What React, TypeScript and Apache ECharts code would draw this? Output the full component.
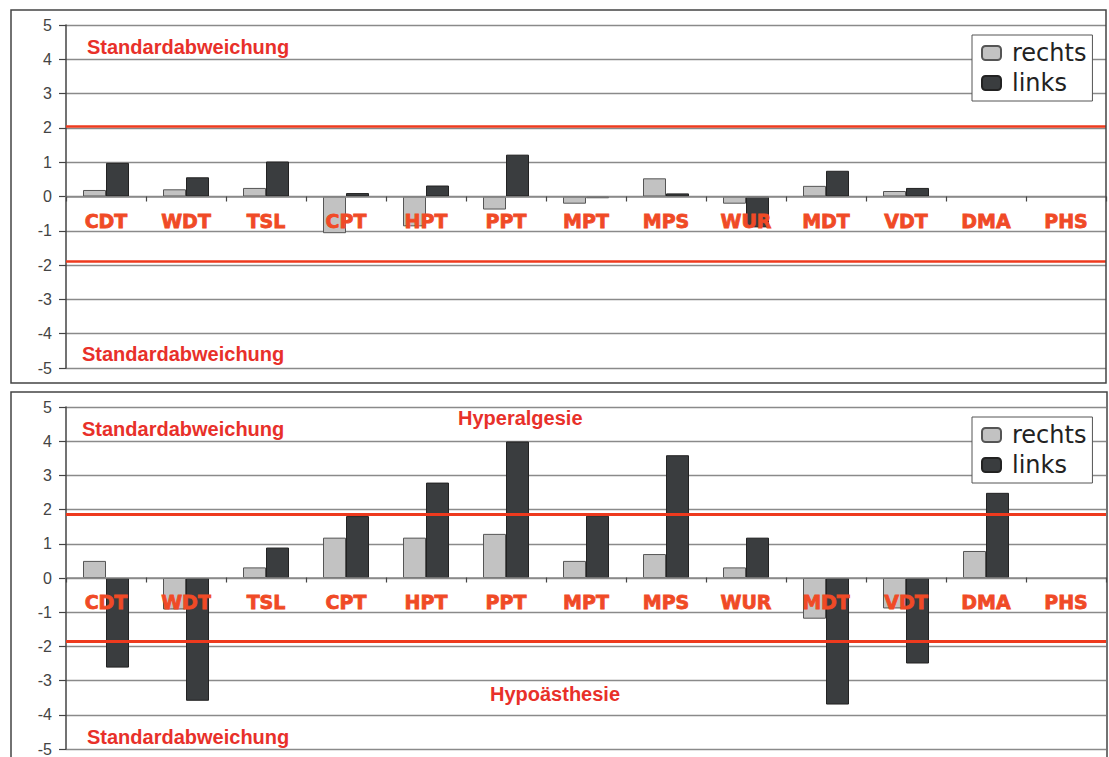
import React, { useEffect, useRef } from "react";
import * as echarts from "echarts";

const categories = ["CDT", "WDT", "TSL", "CPT", "HPT", "PPT", "MPT", "MPS", "WUR", "MDT", "VDT", "DMA", "PHS"];
const yTicks = [-5, -4, -3, -2, -1, 0, 1, 2, 3, 4, 5];

const topRechts = [0.19, 0.21, 0.25, -1.07, -0.87, -0.38, -0.21, 0.53, -0.21, 0.31, 0.16, null, null];
const topLinks = [0.98, 0.56, 1.02, 0.1, 0.32, 1.22, -0.05, 0.09, -0.9, 0.75, 0.25, null, null];
const topSD = [2.04, -1.88];

const botRechts = [0.5, -0.92, 0.31, 1.18, 1.18, 1.29, 0.5, 0.7, 0.31, -1.19, -0.89, 0.79, null];
const botLinks = [-2.62, -3.59, 0.89, 1.81, 2.79, 3.99, 1.82, 3.59, 1.18, -3.7, -2.5, 2.49, null];
const botSD = [1.87, -1.85];

const RED = "#ee3a1e";
const LABEL_RED = "#f04a26";

const PLOT_H = 343;

export default function App() {
  const ref = useRef<HTMLDivElement>(null);
  useEffect(() => {
    document.body.style.margin = "0";
    const chart = echarts.init(ref.current!, null, { renderer: "svg" });
    const yAxis = (gi: number) => ({
      type: "value",
      gridIndex: gi,
      min: yTicks[0],
      max: yTicks[yTicks.length - 1],
      interval: 1,
      axisLine: { show: true, onZero: false, lineStyle: { color: "#444", width: 1.5 } },
      axisTick: { show: true, length: 7, lineStyle: { color: "#444", width: 1.2 } },
      axisLabel: { color: "#444", fontSize: 16, fontFamily: "Liberation Sans", margin: 14 },
      splitLine: { lineStyle: { color: "#8a8a8a", width: 1.3 } },
    });
    const xAxis = (gi: number) => ({
      type: "category",
      gridIndex: gi,
      data: categories,
      position: "bottom",
      offset: -PLOT_H / 2,
      axisLine: { onZero: false, lineStyle: { color: "#8a8a8a", width: 1.5 } },
      axisTick: { show: true, length: 5, lineStyle: { color: "#444", width: 1.2 } },
      axisLabel: {
        color: LABEL_RED,
        fontSize: 19,
        fontWeight: 900,
        fontFamily: "DejaVu Sans",
        margin: 15,
        textBorderColor: LABEL_RED,
        textBorderWidth: 0.8,
        interval: 0,
      },
      z: 10,
    });
    const barSeries = (name: string, data: any[], gi: number, color: string, border: string, sd?: number[], sdW?: number) => ({
      type: "bar",
      name,
      xAxisIndex: gi,
      yAxisIndex: gi,
      data,
      barWidth: 23,
      barGap: "0%",
      itemStyle: { color, borderColor: border, borderWidth: 1 },
      markLine: sd
        ? {
            silent: true,
            symbol: "none",
            label: { show: false },
            lineStyle: { color: RED, width: sdW, type: "solid" },
            data: sd.map((v) => ({ yAxis: v })),
          }
        : undefined,
    });
    const legend = (top: number) => ({
      orient: "vertical",
      left: 972,
      top,
      data: ["rechts", "links"],
      itemWidth: 19,
      itemHeight: 14,
      itemGap: 2,
      padding: [4, 6, 4, 9],
      borderColor: "#555",
      borderWidth: 1,
      backgroundColor: "#fff",
      textStyle: { fontSize: 24, lineHeight: 28, fontFamily: "DejaVu Sans", color: "#222", padding: [0, 0, 0, 6] },
    });
    const txt = (text: string, x: number, y: number) => ({
      type: "text",
      x,
      y,
      style: {
        text,
        fill: "#e8302a",
        font: "bold 20px 'Liberation Sans'",
        textVerticalAlign: "middle",
      },
      z: 20,
    });
    chart.setOption({
      animation: false,
      grid: [
        { left: 66, right: 3, top: 25, height: PLOT_H },
        { left: 66, right: 3, top: 407, height: PLOT_H },
      ],
      xAxis: [xAxis(0), xAxis(1)],
      yAxis: [yAxis(0), yAxis(1)],
      legend: [legend(35), legend(417)],
      series: [
        barSeries("rechts", topRechts, 0, "#c2c2c2", "#555", topSD, 2.5),
        barSeries("links", topLinks, 0, "#3a3d3f", "#222"),
        barSeries("rechts", botRechts, 1, "#c2c2c2", "#555", botSD, 3),
        barSeries("links", botLinks, 1, "#3a3d3f", "#222"),
      ],
      graphic: [
        { type: "rect", shape: { x: 11, y: 10, width: 1095, height: 373 }, style: { fill: "none", stroke: "#444", lineWidth: 1.5 }, z: 30 },
        { type: "rect", shape: { x: 11, y: 392, width: 1096, height: 400 }, style: { fill: "none", stroke: "#444", lineWidth: 1.5 }, z: 30 },
        txt("Standardabweichung", 87, 47),
        txt("Standardabweichung", 82, 354),
        txt("Standardabweichung", 82, 429),
        txt("Standardabweichung", 87, 737),
        txt("Hyperalgesie", 458, 418),
        txt("Hypoästhesie", 490, 694),
      ],
    });
    return () => chart.dispose();
  }, []);
  return <div ref={ref} style={{ width: 1109, height: 757 }} />;
}
